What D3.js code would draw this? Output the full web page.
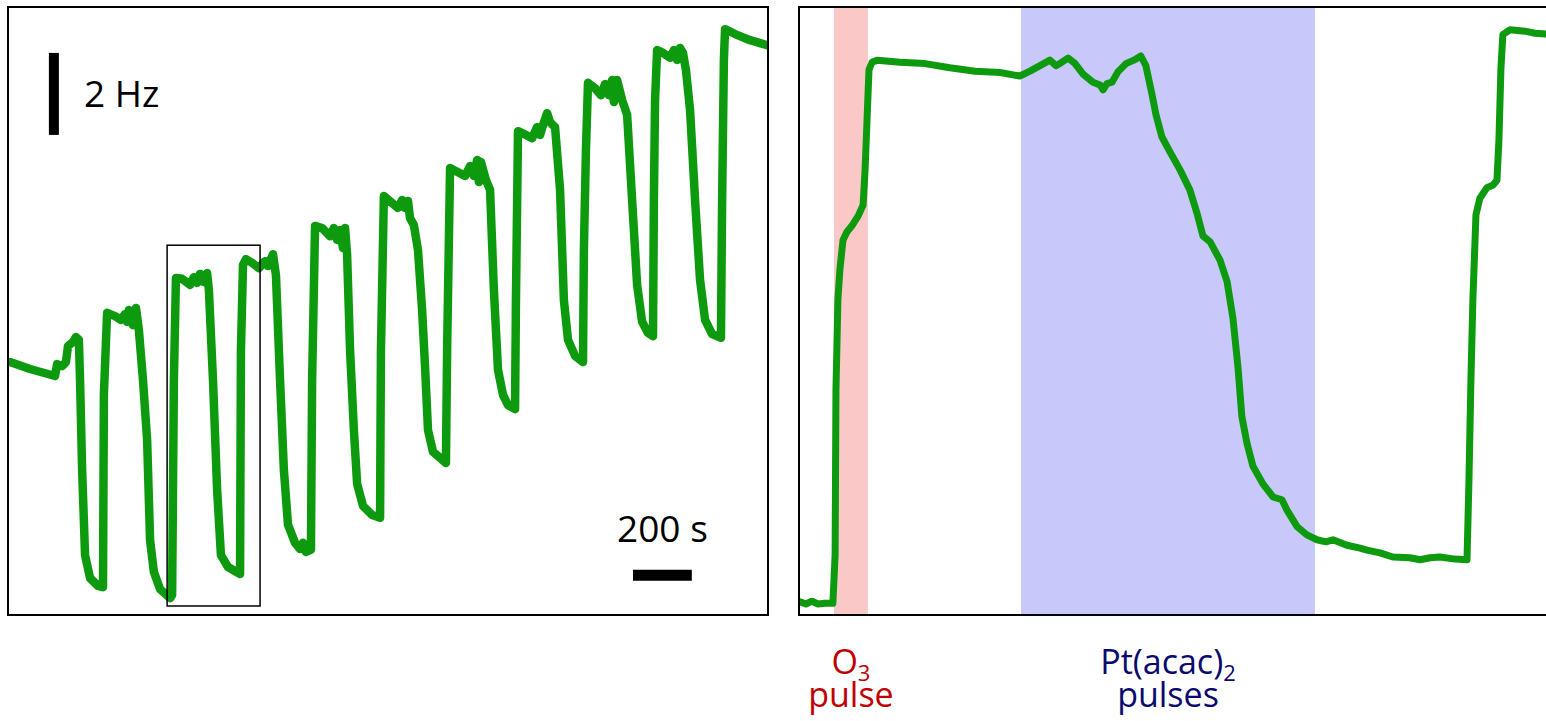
<!DOCTYPE html>
<html>
<head>
<meta charset="utf-8">
<script src="https://cdn.jsdelivr.net/npm/d3@7"></script>
<style>
  html, body { margin: 0; padding: 0; background: #fff; overflow: hidden; }
  svg { display: block; }
  text { font-family: "Open Sans", "Noto Sans", sans-serif; }
</style>
</head>
<body>
<svg id="chart" width="1546" height="721"></svg>
<script>
// ---- Full run: frequency shift (Hz) versus time (s), repeated O3 / Pt(acac)2 cycles ----
const runTime = [7, 75, 160, 167, 184, 197, 204, 221, 231, 241, 245, 252, 262, 279, 306, 323,
  326, 337, 364, 384, 398, 405, 411, 425, 435, 445, 459, 473, 483, 496, 517, 551, 558,
  564, 571, 592, 619, 632, 643, 653, 666, 677, 683, 697, 711, 724, 748, 789,
  792, 799, 809, 830, 853, 874, 884, 901, 911, 925, 938, 952, 976, 993, 1003, 1013, 1030,
  1034, 1044, 1068, 1095, 1108, 1119, 1129, 1139, 1146, 1153, 1163, 1176, 1187, 1207, 1238, 1265,
  1268, 1278, 1306, 1326, 1340, 1350, 1360, 1367, 1380, 1394, 1408, 1418, 1428, 1445, 1489,
  1493, 1503, 1530, 1554, 1571, 1584, 1595, 1601, 1608, 1625, 1639, 1652, 1666, 1683, 1700, 1724,
  1727, 1734, 1761, 1782, 1799, 1809, 1819, 1833, 1843, 1860, 1877, 1890, 1904, 1928, 1955,
  1958, 1965, 1972, 1996, 2016, 2030, 2043, 2054, 2060, 2071, 2088, 2105, 2122, 2139, 2156, 2176, 2193,
  2196, 2200, 2207, 2227, 2251, 2264, 2275, 2285, 2295, 2305, 2319, 2336, 2353, 2370, 2394, 2424,
  2428, 2434, 2438, 2472, 2523, 2581];
const runShift = [6.17, 6.00, 5.83, 6.12, 6.07, 6.17, 6.56, 6.66, 6.78, 6.71, 5.73, 3.54, 1.46, 0.90, 0.71, 0.68,
  5.37, 7.37, 7.29, 7.20, 7.34, 7.15, 7.44, 7.07, 7.49, 6.95, 5.73, 4.27, 1.83, 1.05, 0.63, 0.41, 0.49,
  5.73, 8.22, 8.20, 8.05, 8.24, 8.10, 8.32, 8.12, 8.34, 7.93, 5.73, 3.05, 1.46, 1.17, 1.00,
  6.46, 8.54, 8.68, 8.59, 8.46, 8.63, 8.51, 8.80, 8.29, 5.73, 3.54, 2.20, 1.76, 1.61, 1.76, 1.54, 1.59,
  5.73, 9.49, 9.44, 9.24, 9.44, 9.15, 9.39, 8.95, 9.44, 8.78, 6.46, 4.51, 3.20, 2.66, 2.44, 2.37,
  6.46, 10.22, 10.05, 9.93, 10.12, 9.93, 10.10, 9.68, 9.51, 8.90, 7.44, 6.05, 4.51, 3.98, 3.71,
  6.46, 10.90, 10.80, 10.71, 10.95, 10.71, 11.10, 10.56, 11.05, 10.61, 10.37, 7.93, 5.98, 5.37, 5.12, 5.02,
  7.68, 11.80, 11.71, 11.63, 11.90, 11.71, 11.95, 12.24, 12.02, 11.90, 10.37, 7.68, 6.71, 6.32, 6.17,
  8.90, 11.34, 12.98, 12.85, 12.68, 12.95, 12.68, 13.05, 12.51, 13.05, 12.56, 12.20, 10.12, 8.05, 7.15, 6.88, 6.80,
  10.12, 12.56, 13.78, 13.71, 13.59, 13.78, 13.54, 13.83, 13.71, 13.29, 12.32, 10.12, 8.17, 7.20, 6.85, 6.76,
  10.12, 13.54, 14.29, 14.17, 14.02, 13.90];

// ---- Single cycle (detail of the boxed window) ----
const cycleTime = [546.4, 548.5, 550.6, 552.8, 555.3, 558.1, 558.9, 559.2, 559.9, 560.6, 561.7, 563.1,
  564.9, 567.1, 568.9, 569.6, 570.3, 571.0, 572.1, 573.9, 582.1, 591.0, 599.9, 608.9, 617.8, 624.9,
  628.5, 632.1, 635.6, 637.8, 639.9, 642.1, 644.6, 647.4, 651.0, 653.5, 654.6, 656.0, 657.8, 659.9,
  662.8, 665.6, 668.1, 669.9, 672.1, 673.5, 675.6, 678.5, 682.1, 685.6, 688.1, 690.3, 692.8, 696.4,
  698.9, 701.0, 702.8, 704.2, 706.0, 708.1, 711.7, 715.3, 718.5, 720.3, 723.9, 727.4, 731.0, 734.2,
  736.7, 741.7, 746.4, 748.9, 753.5, 758.1, 764.2, 767.8, 771.4, 774.9, 780.3, 784.6, 785.3, 786.0,
  786.7, 787.8, 789.2, 791.7, 793.9, 795.3, 796.0, 796.7, 797.4, 799.9, 805.3, 808.9, 812.8];
const cycleShift = [0.39, 0.36, 0.40, 0.36, 0.37, 0.37, 1.07, 3.46, 4.77, 5.20, 5.63, 5.75,
  5.84, 5.98, 6.14, 6.65, 7.37, 8.10, 8.21, 8.24, 8.21, 8.19, 8.13, 8.08, 8.06, 8.01,
  8.08, 8.16, 8.24, 8.16, 8.21, 8.27, 8.19, 8.04, 7.92, 7.88, 7.81, 7.90, 7.92, 8.07,
  8.19, 8.24, 8.30, 8.16, 7.74, 7.45, 7.13, 6.91, 6.65, 6.36, 6.03, 5.69, 5.61, 5.34,
  5.03, 4.50, 3.79, 3.07, 2.69, 2.36, 2.10, 1.91, 1.87, 1.72, 1.48, 1.36, 1.29, 1.26,
  1.29, 1.21, 1.17, 1.14, 1.10, 1.04, 1.03, 1.00, 1.03, 1.04, 1.01, 1.00, 2.16, 3.61,
  4.77, 6.00, 6.24, 6.39, 6.43, 6.50, 7.08, 8.10, 8.61, 8.68, 8.66, 8.63, 8.62];

// Precursor pulse windows within the single cycle (s)
const pulseNames = ["O3", "Pt(acac)2"];
const pulseStart = [558.5, 625.3];
const pulseEnd = [570.6, 730.3];

// Window of the full run that is shown in detail: [t0, t1] s, [f0, f1] Hz
const detailTime = [541, 857];
const detailShift = [0.22, 9.02];

// Scale bars: 2 Hz (vertical), 200 s (horizontal)
const freqBar = { value: 2, label: "2 Hz" };
const timeBar = { value: 200, label: "200 s" };

const svg = d3.select("#chart");
const green = "#0e9a0e";

// ---------------- Left panel ----------------
const L = { x0: 8, x1: 768, y0: 7, y1: 615 };
const xL = d3.scaleLinear().domain([0, 2584]).range([L.x0, L.x1]);
const yL = d3.scaleLinear().domain([0, 14.83]).range([L.y1, L.y0]);

svg.append("clipPath").attr("id", "clipL")
  .append("rect").attr("x", L.x0).attr("y", L.y0).attr("width", L.x1 - L.x0).attr("height", L.y1 - L.y0);

const runData = runTime.map((t, i) => [t, runShift[i]]);
svg.append("path")
  .datum(runData)
  .attr("clip-path", "url(#clipL)")
  .attr("fill", "none")
  .attr("stroke", green)
  .attr("stroke-width", 8.5)
  .attr("stroke-linejoin", "round")
  .attr("stroke-linecap", "round")
  .attr("d", d3.line().x(d => xL(d[0])).y(d => yL(d[1])));

// detail window box
svg.append("rect")
  .attr("x", xL(detailTime[0])).attr("y", yL(detailShift[1]))
  .attr("width", xL(detailTime[1]) - xL(detailTime[0]))
  .attr("height", yL(detailShift[0]) - yL(detailShift[1]))
  .attr("fill", "none").attr("stroke", "#000").attr("stroke-width", 1.5);

// vertical 2 Hz scale bar
const fbT = 156, fbTop = 13.71;
svg.append("line")
  .attr("x1", xL(fbT)).attr("x2", xL(fbT))
  .attr("y1", yL(fbTop)).attr("y2", yL(fbTop - freqBar.value))
  .attr("stroke", "#000").attr("stroke-width", 10);
svg.append("text")
  .attr("x", 84).attr("y", yL(fbTop - freqBar.value / 2) + 13)
  .attr("font-size", 37).attr("fill", "#000")
  .text(freqBar.label);

// horizontal 200 s scale bar
const tbStart = 2125, tbShift = 0.97;
svg.append("line")
  .attr("x1", xL(tbStart)).attr("x2", xL(tbStart + timeBar.value))
  .attr("y1", yL(tbShift)).attr("y2", yL(tbShift))
  .attr("stroke", "#000").attr("stroke-width", 11);
svg.append("text")
  .attr("x", xL(tbStart + timeBar.value / 2)).attr("y", 542)
  .attr("text-anchor", "middle")
  .attr("font-size", 37).attr("fill", "#000")
  .text(timeBar.label);

svg.append("rect")
  .attr("x", L.x0).attr("y", L.y0).attr("width", L.x1 - L.x0).attr("height", L.y1 - L.y0)
  .attr("fill", "none").attr("stroke", "#000").attr("stroke-width", 2);

// ---------------- Right panel ----------------
const R = { x0: 799, x1: 1551, y0: 7, y1: 615 };
const xR = d3.scaleLinear().domain([546, 814.6]).range([R.x0, R.x1]);
const yR = d3.scaleLinear().domain([0.2, 9.01]).range([R.y1, R.y0]);

svg.append("clipPath").attr("id", "clipR")
  .append("rect").attr("x", R.x0).attr("y", R.y0).attr("width", R.x1 - R.x0).attr("height", R.y1 - R.y0);

const bandFill = ["#fbc8c8", "#c8c8fa"];
const labelFill = ["#c00000", "#0a0a6e"];

svg.append("g").attr("clip-path", "url(#clipR)")
  .selectAll("rect")
  .data(pulseNames)
  .join("rect")
  .attr("x", (d, i) => xR(pulseStart[i]))
  .attr("y", R.y0)
  .attr("width", (d, i) => xR(pulseEnd[i]) - xR(pulseStart[i]))
  .attr("height", R.y1 - R.y0)
  .attr("fill", (d, i) => bandFill[i]);

const cycleData = cycleTime.map((t, i) => [t, cycleShift[i]]);
svg.append("path")
  .datum(cycleData)
  .attr("clip-path", "url(#clipR)")
  .attr("fill", "none")
  .attr("stroke", green)
  .attr("stroke-width", 7)
  .attr("stroke-linejoin", "round")
  .attr("stroke-linecap", "round")
  .attr("d", d3.line().x(d => xR(d[0])).y(d => yR(d[1])));

svg.append("rect")
  .attr("x", R.x0).attr("y", R.y0).attr("width", R.x1 - R.x0).attr("height", R.y1 - R.y0)
  .attr("fill", "none").attr("stroke", "#000").attr("stroke-width", 2);

// two-line pulse labels under the bands (formula with subscript, then "pulse(s)")
const labelParts = [
  { main: "O", sub: "3", second: "pulse" },
  { main: "Pt(acac)", sub: "2", second: "pulses" }
];
pulseNames.forEach((name, i) => {
  const cx = (xR(pulseStart[i]) + xR(pulseEnd[i])) / 2;
  const p = labelParts[i];
  const t = svg.append("text")
    .attr("x", cx).attr("y", 674)
    .attr("text-anchor", "middle")
    .attr("font-size", 34).attr("fill", labelFill[i]);
  t.append("tspan").text(p.main);
  t.append("tspan").attr("font-size", 22).attr("dy", 7).text(p.sub);
  t.append("tspan").attr("x", cx).attr("dy", 26).text(p.second);
});
</script>
</body>
</html>
